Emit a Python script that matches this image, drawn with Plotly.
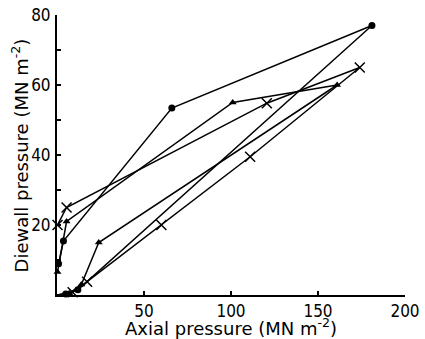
import plotly.graph_objects as go

# Circle series (loading then unloading)
circ_x = [0, 5, 12, 181, 66, 3.7, 0.9]
circ_y = [0, 0.3, 1.5, 77, 53.4, 15.4, 8.9]

# Triangle series
tri_x = [0, 7, 14, 24, 161, 101, 5.5, 0.3]
tri_y = [0, 0.5, 3, 15, 60, 55, 21, 6.6]

# Cross series
crs_x = [0, 9, 17.3, 60, 111, 174, 120.6, 5.5, 0.3]
crs_y = [0, 0.8, 3.8, 20, 39.5, 65, 54.8, 25, 20]

y_ticks = [20, 40, 60, 80]
y_minor = [10, 30, 50, 70]
x_ticks = [50, 100, 150, 200]

line = dict(color="black", width=1.5)

fig = go.Figure()
series = [
    (circ_x, circ_y, dict(symbol="circle", size=7, color="black")),
    (tri_x, tri_y, dict(symbol="triangle-up", size=7, color="black")),
    (crs_x, crs_y, dict(symbol="x-thin", size=10, color="black",
                        line=dict(color="black", width=1.5))),
]
for xs, ys, mk in series:
    fig.add_trace(go.Scatter(x=xs, y=ys, mode="lines", line=line, cliponaxis=False))
    fig.add_trace(go.Scatter(x=xs[1:], y=ys[1:], mode="markers", marker=mk, cliponaxis=False))

tick_font = dict(family="DejaVu Sans Condensed", size=17, color="black")
title_font = dict(family="DejaVu Sans", size=18, color="black")
fig.update_layout(
    width=425, height=339,
    margin=dict(l=57, r=20, t=15, b=44),
    paper_bgcolor="white", plot_bgcolor="white",
    showlegend=False,
    font=tick_font,
    xaxis=dict(range=[0, 200], showgrid=False, zeroline=False, showline=True,
               linecolor="black", linewidth=2, ticks="inside", ticklen=4,
               tickcolor="black", tickwidth=1.5, tickvals=x_ticks, tickfont=tick_font,
               ticklabelstandoff=0, automargin=False),
    yaxis=dict(range=[0, 80], showgrid=False, zeroline=False, showline=True,
               linecolor="black", linewidth=2, ticks="inside", ticklen=4,
               tickcolor="black", tickwidth=1.5, tickvals=y_ticks, tickfont=tick_font,
               minor=dict(tickvals=y_minor, ticks="inside", ticklen=4,
                          tickcolor="black", tickwidth=1.5),
               ticklabelstandoff=1, automargin=False),
    annotations=[
        dict(text="Axial pressure (MN m<sup>-2</sup>)", xref="paper", yref="paper",
             x=0.5, y=-0.115, xanchor="center", yanchor="middle", showarrow=False,
             font=title_font),
        dict(text="Diewall pressure (MN m<sup>-2</sup>)", xref="paper", yref="paper",
             x=-0.105, y=0.5, xanchor="center", yanchor="middle", showarrow=False,
             textangle=-90, font=title_font),
    ],
)
fig.write_html("out.html", config={"displayModeBar": False},
               post_script="document.body.style.margin='0px';")
